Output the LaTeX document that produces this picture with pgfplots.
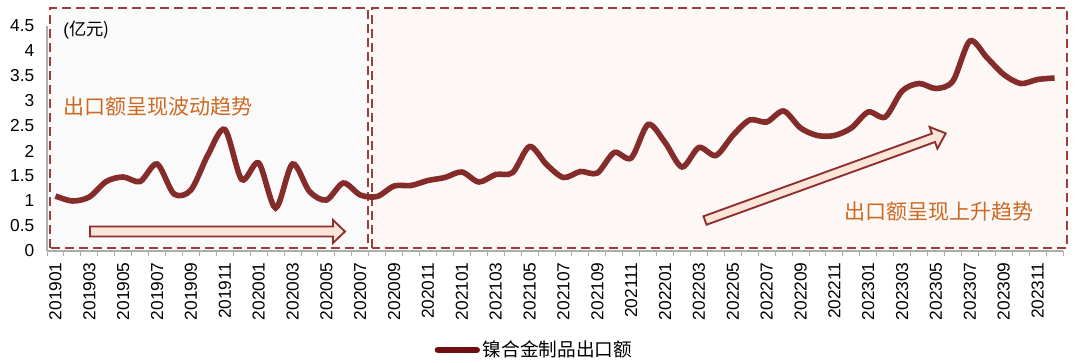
\documentclass[border=0pt]{standalone}
\usepackage{pgfplots}
\usepackage{pgfplotstable}
\pgfplotsset{compat=1.18}
\usepackage{fontspec}
\setmainfont{Liberation Sans}
\newfontfamily\cjk{Noto Sans CJK SC}
\definecolor{linered}{HTML}{842C2A}
\definecolor{legred}{HTML}{6E0E0E}
\definecolor{boxred}{HTML}{A03C3C}
\definecolor{txtorange}{HTML}{CC6A24}
\definecolor{leftfill}{HTML}{FBFAFA}
\definecolor{rightfill}{HTML}{FDF8F6}
\definecolor{arrowfill}{HTML}{FBE4D8}
\definecolor{arrowline}{HTML}{8E2E2E}

\pgfplotstableread{
idx val
0 1.10
1 1.00
2 1.08
3 1.39
4 1.48
5 1.39
6 1.74
7 1.14
8 1.22
9 1.92
10 2.43
11 1.43
12 1.76
13 0.86
14 1.74
15 1.19
16 1.02
17 1.36
18 1.12
19 1.09
20 1.30
21 1.31
22 1.41
23 1.47
24 1.58
25 1.38
26 1.53
27 1.57
28 2.09
29 1.73
30 1.47
31 1.59
32 1.56
33 1.97
34 1.86
35 2.53
36 2.17
37 1.68
38 2.07
39 1.91
40 2.31
41 2.62
42 2.58
43 2.80
44 2.46
45 2.31
46 2.31
47 2.46
48 2.78
49 2.68
50 3.20
51 3.35
52 3.25
53 3.40
54 4.20
55 3.87
56 3.53
57 3.35
58 3.43
59 3.46
}\datatable

\begin{document}
\begin{tikzpicture}[x=0.75pt,y=0.75pt]
\path[use as bounding box] (0,0) rectangle (1080,363);
% background boxes
\filldraw[fill=leftfill, draw=boxred, line width=1.9pt, dash pattern=on 7pt off 3.5pt] (50,115) rectangle (368,355);
\filldraw[fill=rightfill, draw=boxred, line width=1.9pt, dash pattern=on 7pt off 3.5pt] (372,115) rectangle (1067,355);

\begin{axis}[
  at={(35.25pt,84pt)}, anchor=south west,
  scale only axis, width=762pt, height=168.75pt,
  xmin=-0.5, xmax=59.5, ymin=0, ymax=4.5,
  axis lines*=left,
  axis line style={-, draw=gray!65, line width=0.8pt},
  font=\fontsize{13}{13}\selectfont,
  /pgf/number format/assume math mode=true,
  ytick={0,0.5,...,4.5},
  yticklabels={0,0.5,1,1.5,2,2.5,3,3.5,4,4.5},
  y tick label style={font=\fontsize{13}{13}\selectfont},
  yticklabel shift=6pt,
  ytick style={draw=none},
  xtick={0,2,...,58},
  xticklabels={201901,201903,201905,201907,201909,201911,202001,202003,202005,202007,202009,202011,202101,202103,202105,202107,202109,202111,202201,202203,202205,202207,202209,202211,202301,202303,202305,202307,202309,202311},
  x tick label style={rotate=90, anchor=east, font=\fontsize{13}{13}\selectfont},
  xticklabel shift=5pt,
  major tick length=0pt,
  tick align=outside,
  extra x ticks={-0.5,0.5,...,59.5},
  extra x tick labels={},
  extra x tick style={major tick length=4pt, tick style={draw=gray!65, line width=0.7pt}},
  legend style={at={(0.48,-0.44)}, anchor=center, draw=none, fill=none,
    font=\cjk\fontsize{14}{14}\selectfont, inner sep=0pt},
  legend image code/.code={\draw[line width=5pt, legred, line cap=round] (2.5pt,0pt) -- (31.5pt,0pt);},
  legend cell align=left,
]
\addplot[linered, line width=4.2pt, smooth, tension=0.5] table[x=idx, y=val] {\datatable};
\addlegendentry{镍合金制品出口额}
\end{axis}

% arrows
\filldraw[fill=arrowfill, draw=arrowline, line width=1.4pt, line join=miter]
  (90,126.5) -- (333,126.5) -- (333,120) -- (345,131.5) -- (333,143) -- (333,136.5) -- (90,136.5) -- cycle;
\begin{scope}[shift={(705,142.5)}, rotate=19.9]
\filldraw[fill=arrowfill, draw=arrowline, line width=1.4pt, line join=miter]
  (0,-4.5) -- (243,-4.5) -- (243,-11.5) -- (256,0) -- (243,11.5) -- (243,4.5) -- (0,4.5) -- cycle;
\end{scope}

% texts
\node[anchor=west, inner sep=0pt, font=\fontsize{13}{13}\selectfont] at (63,333) {(\cjk 亿元)};
\node[anchor=west, inner sep=0pt, text=txtorange, font=\cjk\fontsize{15.8}{16}\selectfont] at (63,256) {出口额呈现波动趋势};
\node[anchor=west, inner sep=0pt, text=txtorange, font=\cjk\fontsize{15.8}{16}\selectfont] at (844,151) {出口额呈现上升趋势};
\end{tikzpicture}
\end{document}
